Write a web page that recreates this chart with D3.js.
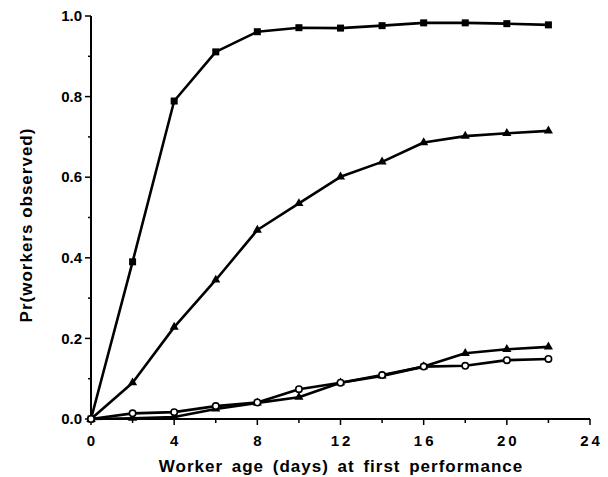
<!DOCTYPE html>
<html>
<head>
<meta charset="utf-8">
<script src="https://cdn.jsdelivr.net/npm/d3@7"></script>
<style>
  body { margin: 0; background: #fff; }
  text { font-family: "Liberation Sans", Arial, sans-serif; font-weight: bold; fill: #000; }
</style>
</head>
<body>
<div class="wrapper"></div>
<script>
const ages = [0, 2, 4, 6, 8, 10, 12, 14, 16, 18, 20, 22]

// four series
const squares = [0, 0.39, 0.789, 0.911, 0.961, 0.971, 0.970, 0.976, 0.983, 0.983, 0.981, 0.978]
const trianglesHigh = [0, 0.09, 0.228, 0.345, 0.469, 0.535, 0.601, 0.638, 0.686, 0.702, 0.709, 0.715]
const trianglesLow = [0, 0.002, 0.005, 0.025, 0.04, 0.054, 0.09, 0.107, 0.13, 0.163, 0.173, 0.179]
const circles = [0, 0.014, 0.017, 0.032, 0.041, 0.074, 0.09, 0.109, 0.13, 0.132, 0.146, 0.149]

const xTicks = [0, 4, 8, 12, 16, 20, 24]
const yTicks = [0, 0.2, 0.4, 0.6, 0.8, 1.0]

const width = 608,
  height = 477

const svg = d3.select('.wrapper')
  .append('svg')
  .attr('width', width)
  .attr('height', height)

const x = d3.scaleLinear().domain([0, 24]).range([91, 590])
const y = d3.scaleLinear().domain([0, 1]).range([419, 16])

// x axis
const xAxis = svg.append('g').attr('transform', `translate(0, ${y(0)})`)
xAxis.append('line')
  .attr('x1', x(0)).attr('x2', x(24))
  .attr('stroke', '#000').attr('stroke-width', 2)
xAxis.selectAll('line.minor')
  .data(d3.range(0, 25, 2))
  .enter().append('line')
  .attr('class', 'minor')
  .attr('x1', d => x(d)).attr('x2', d => x(d))
  .attr('y1', 0).attr('y2', d => d % 4 === 0 ? 6 : 4)
  .attr('stroke', '#000').attr('stroke-width', 1.5)
xAxis.selectAll('text')
  .data(xTicks)
  .enter().append('text')
  .attr('x', d => x(d) + (d >= 10 ? 1.5 : 0))
  .attr('y', 27)
  .attr('text-anchor', 'middle')
  .attr('font-size', 15)
  .attr('letter-spacing', d => d >= 10 ? 3 : 0)
  .text(d => d)

// y axis
const yAxis = svg.append('g').attr('transform', `translate(${x(0)}, 0)`)
yAxis.append('line')
  .attr('y1', y(0)).attr('y2', y(1))
  .attr('stroke', '#000').attr('stroke-width', 2)
yAxis.selectAll('line.minor')
  .data(d3.range(0, 11).map(d => d / 10))
  .enter().append('line')
  .attr('class', 'minor')
  .attr('y1', d => y(d)).attr('y2', d => y(d))
  .attr('x1', 0).attr('x2', (d, i) => i % 2 === 0 ? -6 : -3)
  .attr('stroke', '#000').attr('stroke-width', 1.5)
yAxis.selectAll('text')
  .data(yTicks)
  .enter().append('text')
  .attr('x', -9)
  .attr('y', d => y(d))
  .attr('dy', '.35em')
  .attr('text-anchor', 'end')
  .attr('font-size', 15)
  .text(d => d.toFixed(1))

// axis titles
svg.append('text')
  .attr('x', 341)
  .attr('y', 472)
  .attr('text-anchor', 'middle')
  .attr('font-size', 17)
  .attr('letter-spacing', 1)
  .attr('word-spacing', 3)
  .text('Worker age (days) at first performance')

svg.append('text')
  .attr('transform', 'translate(32, 225) rotate(-90)')
  .attr('text-anchor', 'middle')
  .attr('font-size', 17)
  .attr('letter-spacing', 1)
  .text('Pr(workers observed)')

// lines
const line = d3.line()
  .x((d, i) => x(ages[i]))
  .y(d => y(d))

const series = [
  { values: squares, marker: 'square' },
  { values: trianglesHigh, marker: 'triangle' },
  { values: trianglesLow, marker: 'triangle' },
  { values: circles, marker: 'circle' },
]

svg.selectAll('path.line')
  .data(series)
  .enter().append('path')
  .attr('class', 'line')
  .attr('d', d => line(d.values))
  .attr('fill', 'none')
  .attr('stroke', '#000')
  .attr('stroke-width', 2.6)
  .attr('stroke-linejoin', 'round')

// markers
series.forEach(s => {
  const g = svg.append('g')
  const pts = s.values.map((v, i) => ({ x: ages[i], y: v }))
  if (s.marker === 'square') {
    g.selectAll('rect').data(pts).enter().append('rect')
      .attr('x', d => x(d.x) - 3.5).attr('y', d => y(d.y) - 3.5)
      .attr('width', 7).attr('height', 7)
      .attr('fill', '#000')
  } else if (s.marker === 'triangle') {
    g.selectAll('path').data(pts).enter().append('path')
      .attr('d', d3.symbol().type(d3.symbolTriangle).size(36))
      .attr('transform', d => `translate(${x(d.x)}, ${y(d.y)})`)
      .attr('fill', '#000')
  } else {
    g.selectAll('circle').data(pts).enter().append('circle')
      .attr('cx', d => x(d.x)).attr('cy', d => y(d.y))
      .attr('r', 3.2)
      .attr('fill', '#fff')
      .attr('stroke', '#000')
      .attr('stroke-width', 1.6)
  }
})
</script>
</body>
</html>
